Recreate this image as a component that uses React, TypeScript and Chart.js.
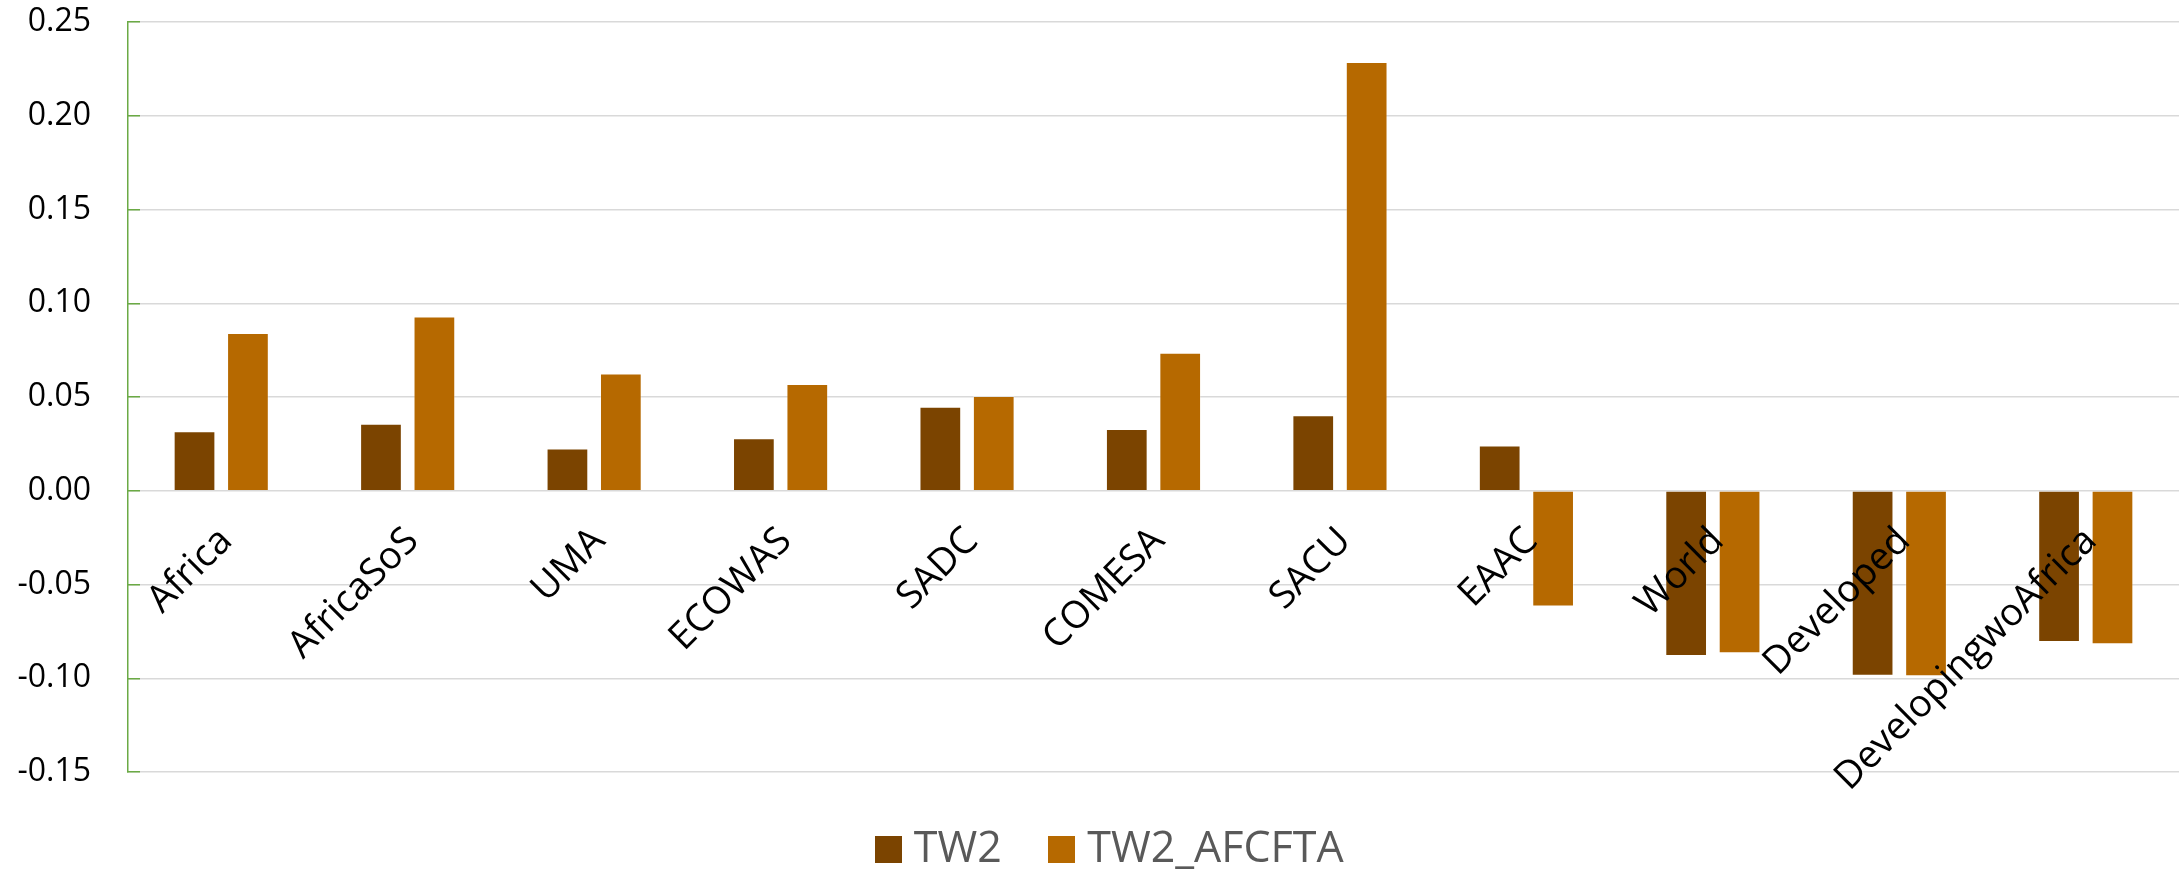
import React, { useEffect, useRef } from 'react';
import { Chart, registerables } from 'chart.js';

Chart.register(...registerables);

const categories = [
  'Africa',
  'AfricaSoS',
  'UMA',
  'ECOWAS',
  'SADC',
  'COMESA',
  'SACU',
  'EAAC',
  'World',
  'Developed',
  'DevelopingwoAfrica',
];
const seriesNames = ['TW2', 'TW2_AFCFTA'];
const tw2 = [0.0317, 0.0357, 0.0226, 0.028, 0.0448, 0.033, 0.0403, 0.0241, -0.0881, -0.0986, -0.0807];
const tw2Afcfta = [0.0841, 0.093, 0.0626, 0.0569, 0.0506, 0.0736, 0.2287, -0.0617, -0.0866, -0.0989, -0.0818];
const yMin = -0.15;
const yMax = 0.25;
const yStep = 0.05;

const colors = ['#7B4400', '#B66900'];
const green = '#6BAA45';
const font = 'Open Sans';

function swatch(color: string) {
  const c = document.createElement('canvas');
  c.width = 27;
  c.height = 27;
  const g = c.getContext('2d');
  if (g) {
    g.fillStyle = color;
    g.fillRect(0, 0, 27, 27);
  }
  return c;
}

export default function App() {
  const ref = useRef<HTMLCanvasElement>(null);

  useEffect(() => {
    if (!ref.current) return;
    const chart = new Chart(ref.current, {
      type: 'bar',
      data: {
        labels: categories,
        datasets: [
          {
            label: seriesNames[0],
            data: tw2,
            backgroundColor: colors[0],
            borderColor: 'rgba(255,255,255,0.3)',
            borderWidth: 1,
            pointStyle: swatch(colors[0]),
            categoryPercentage: 0.573,
            barPercentage: 0.781,
          },
          {
            label: seriesNames[1],
            data: tw2Afcfta,
            backgroundColor: colors[1],
            borderColor: 'rgba(255,255,255,0.3)',
            borderWidth: 1,
            pointStyle: swatch(colors[1]),
            categoryPercentage: 0.573,
            barPercentage: 0.781,
          },
        ],
      },
      options: {
        animation: false,
        responsive: true,
        maintainAspectRatio: false,
        layout: { padding: { left: 16, right: -29, top: 22, bottom: 0 } },
        plugins: {
          legend: {
            position: 'bottom',
            maxHeight: 98,
            labels: {
              usePointStyle: true,
              boxWidth: 8,
              boxHeight: 27,
              padding: 56,
              color: '#595959',
              font: { family: font, size: 43 },
            },
          },
          tooltip: { enabled: false },
        },
        scales: {
          x: {
            position: { y: 0 },
            grid: { display: false, drawTicks: false },
            border: { display: false },
            ticks: {
              z: 1,
              autoSkip: false,
              maxRotation: 45,
              minRotation: 45,
              padding: 28,
              labelOffset: 5,
              color: '#000000',
              font: { family: font, size: 38 },
            },
            afterFit: (s: any) => {
              s.height = 0;
            },
          },
          y: {
            min: yMin,
            max: yMax,
            ticks: {
              stepSize: yStep,
              padding: 49,
              color: '#000000',
              font: { family: font, size: 32 },
              callback: (v: any) => {
                const n = Number(v);
                return (Math.abs(n) < 1e-9 ? 0 : n).toFixed(2);
              },
            },
            grid: {
              color: '#D9D9D9',
              lineWidth: 1.5,
              tickLength: -12,
              tickColor: green,
              tickWidth: 1.5,
            },
            border: { color: green, width: 1.5 },
            afterFit: (s: any) => {
              s.width = 112;
              s.paddingTop = 0;
              s.paddingBottom = 0;
            },
          },
          yRightSpace: {
            type: 'linear',
            position: 'right',
            display: true,
            grid: { display: false, drawTicks: false },
            border: { display: false },
            ticks: { display: false },
            afterFit: (s: any) => {
              s.width = 33;
              s.paddingTop = 0;
              s.paddingBottom = 0;
            },
          },
        },
      },
    } as any);
    return () => chart.destroy();
  }, []);

  return (
    <div style={{ position: 'fixed', left: 0, top: 0, width: 2183, height: 870, background: '#ffffff' }}>
      <canvas ref={ref} />
    </div>
  );
}
